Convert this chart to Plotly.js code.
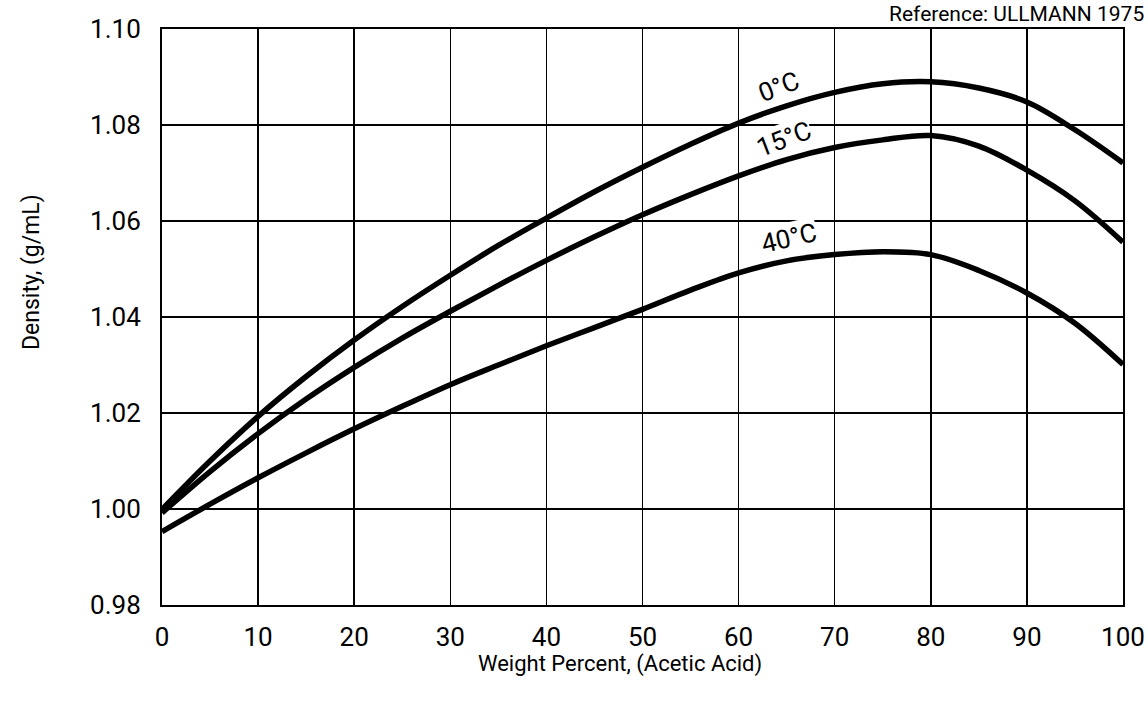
<!DOCTYPE html>
<html>
<head>
<meta charset="utf-8">
<script src="https://cdn.plot.ly/plotly-3.0.1.min.js"></script>
<style>html,body{margin:0;padding:0;background:#fff;}#chart{width:1148px;height:706px;}</style>
</head>
<body>
<div id="chart"></div>
<script>
const weightPercent = [0, 5, 10, 15, 20, 25, 30, 35, 40, 45, 50, 55, 60, 65, 70, 75, 80, 85, 90, 95, 100];
const density0C  = [0.9999, 1.0100, 1.0193, 1.0276, 1.0352, 1.0422, 1.0487, 1.0549, 1.0606, 1.0661, 1.0712, 1.0760, 1.0804, 1.0840, 1.0868, 1.0886, 1.0890, 1.0877, 1.0848, 1.0790, 1.0721];
const density15C = [0.9992, 1.0078, 1.0157, 1.0229, 1.0295, 1.0356, 1.0412, 1.0466, 1.0518, 1.0567, 1.0613, 1.0655, 1.0694, 1.0728, 1.0753, 1.0769, 1.0778, 1.0756, 1.0706, 1.0642, 1.0556];
const density40C = [0.9953, 1.0010, 1.0065, 1.0117, 1.0167, 1.0214, 1.0259, 1.0300, 1.0340, 1.0378, 1.0416, 1.0456, 1.0492, 1.0517, 1.0530, 1.0536, 1.0530, 1.0497, 1.0450, 1.0387, 1.0301];
const seriesNames = ["0°C", "15°C", "40°C"];
const labelX = [64.1, 64.7, 65.2];
const labelY = [1.0880, 1.0771, 1.0565];
const labelAngle = [-21, -21, -13];
const xTicks = [0, 10, 20, 30, 40, 50, 60, 70, 80, 90, 100];
const yTicks = [0.98, 1.00, 1.02, 1.04, 1.06, 1.08, 1.10];

const FONT = "Roboto, 'Liberation Sans', sans-serif";
const allSeries = [density0C, density15C, density40C];

const traces = allSeries.map((ys, i) => ({
  x: weightPercent, y: ys, name: seriesNames[i], type: 'scatter', mode: 'lines',
  line: {color: '#000', width: 5.5, shape: 'spline', smoothing: 1},
  hoverinfo: 'x+y+name'
}));

const annotations = seriesNames.map((t, i) => ({
  x: labelX[i], y: labelY[i], xref: 'x', yref: 'y', text: t, showarrow: false,
  textangle: labelAngle[i], bgcolor: '#fff', borderpad: 0,
  font: {family: FONT, size: 26, color: '#000'}
}));
annotations.push({
  xref: 'paper', yref: 'paper', x: (1146 - 162) / 961, y: 1 + 29 / 576,
  xanchor: 'right', yanchor: 'top', showarrow: false, align: 'right',
  text: 'Reference: ULLMANN 1975', font: {family: FONT, size: 21, color: '#000'}
});
annotations.push({
  xref: 'paper', yref: 'paper', x: (620 - 162) / 961, y: -(664 - 605) / 576,
  xanchor: 'center', yanchor: 'middle', showarrow: false,
  text: 'Weight Percent, (Acetic Acid)', font: {family: FONT, size: 22, color: '#000'}
});
annotations.push({
  xref: 'paper', yref: 'paper', x: -(162 - 31) / 961, y: (605 - 272) / 576,
  xanchor: 'center', yanchor: 'middle', showarrow: false, textangle: -90,
  text: 'Density, (g/mL)', font: {family: FONT, size: 23, color: '#000'}
});

const layout = {
  width: 1148, height: 706,
  margin: {l: 162, r: 25, t: 29, b: 101, pad: 0},
  paper_bgcolor: '#fff', plot_bgcolor: '#fff',
  showlegend: false,
  font: {family: FONT, color: '#000'},
  xaxis: {
    range: [0, 100], tickvals: xTicks, ticktext: xTicks.map(String),
    showgrid: true, gridcolor: '#000', gridwidth: 1.5,
    showline: true, mirror: true, linecolor: '#000', linewidth: 2,
    zeroline: false, ticks: '', ticklabelstandoff: 8,
    tickfont: {family: FONT, size: 26, color: '#000'}
  },
  yaxis: {
    range: [0.98, 1.10], tickvals: yTicks, ticktext: yTicks.map(v => v.toFixed(2)),
    showgrid: true, gridcolor: '#000', gridwidth: 1.5,
    showline: true, mirror: true, linecolor: '#000', linewidth: 2,
    zeroline: false, ticks: '', ticklabelstandoff: 14,
    tickfont: {family: FONT, size: 26, color: '#000'}
  },
  annotations: annotations
};

Plotly.newPlot('chart', traces, layout, {displayModeBar: false, staticPlot: true});
</script>
</body>
</html>
